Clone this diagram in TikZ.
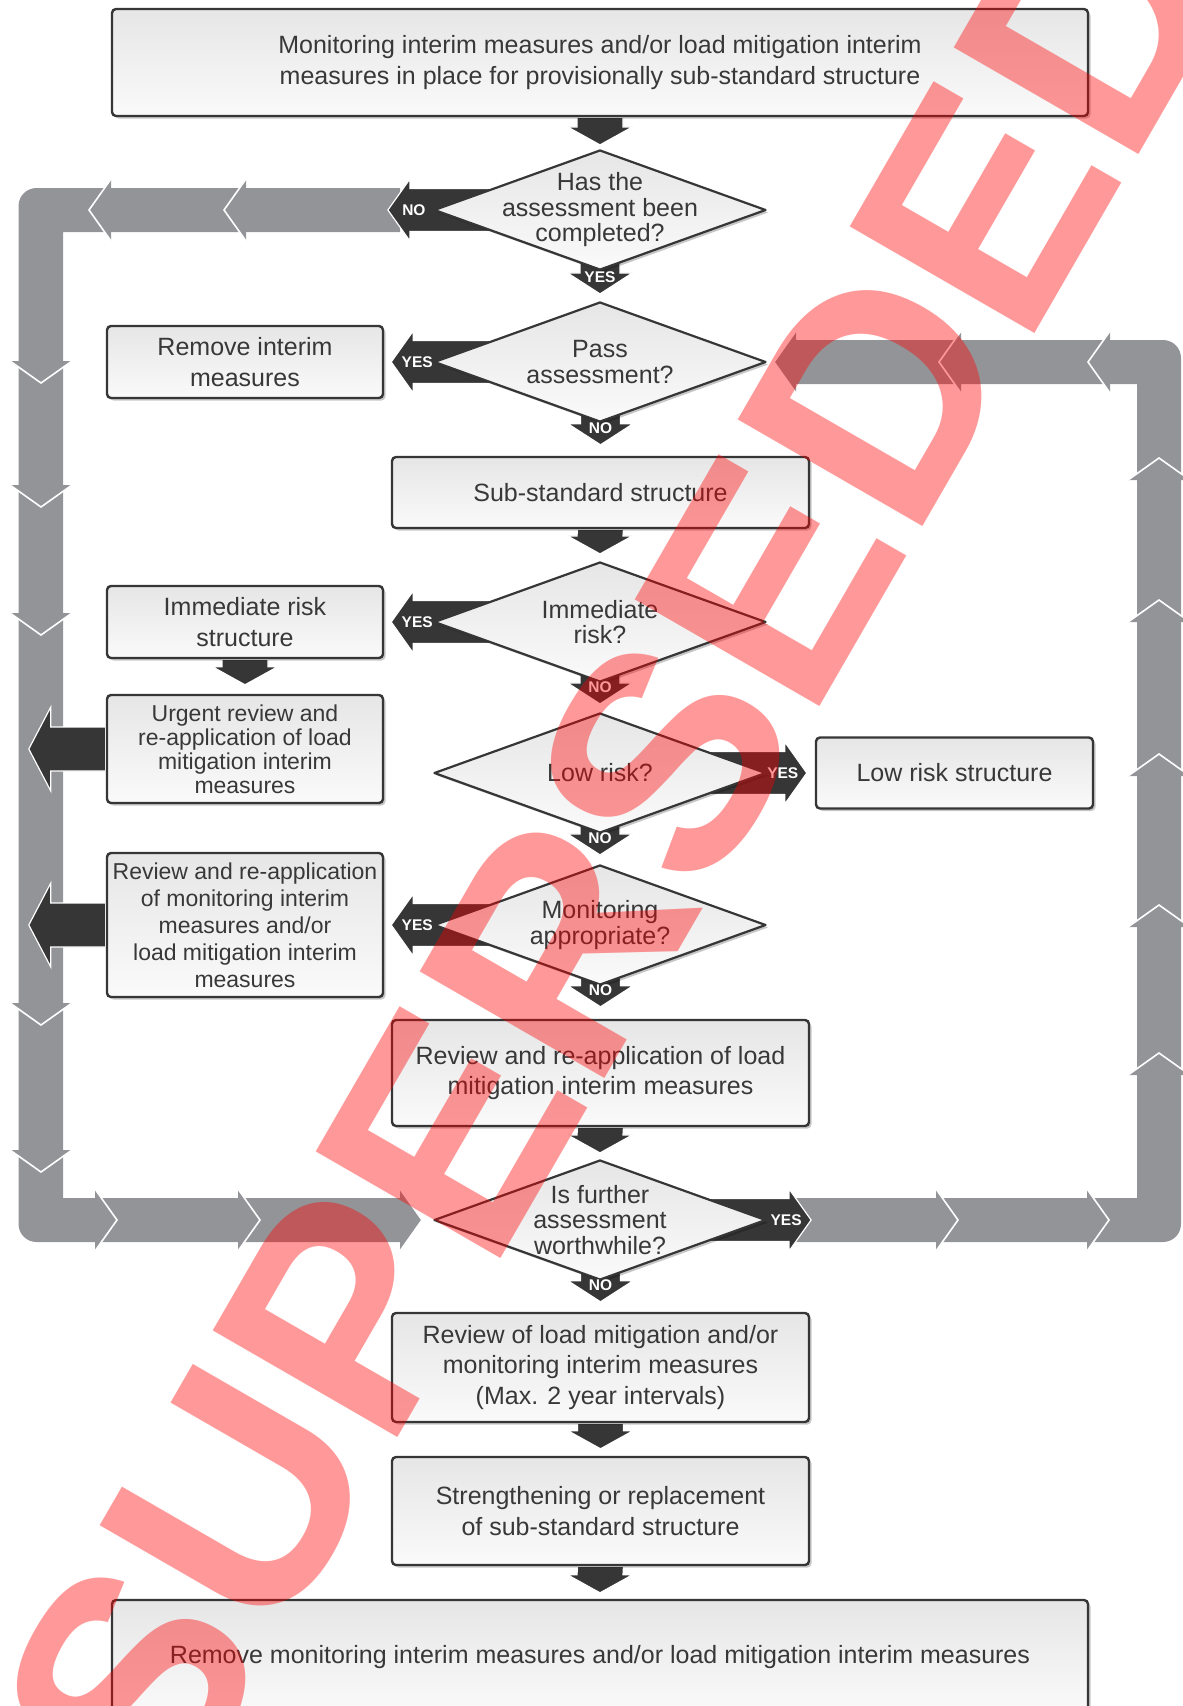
\documentclass[tikz,border=0pt]{standalone}
\usepackage{fontspec}
\setmainfont{Liberation Sans}
\usetikzlibrary{shapes.geometric,calc,shadows}
\pgfdeclarelayer{back}
\pgfsetlayers{back,main}
\definecolor{barg}{HTML}{939498}
\definecolor{darka}{HTML}{363636}
\definecolor{txtc}{HTML}{383838}
\definecolor{boxtop}{HTML}{E6E6E7}
\definecolor{boxbot}{HTML}{FAFAFA}
\newcommand\ArrDn[5]{\filldraw[darkarrow] ($(#1)+(-#3,0)$) -- ($(#2)+(-#3,#5)$) -- ($(#2)+(-#4,#5)$) -- (#2) -- ($(#2)+(#4,#5)$) -- ($(#2)+(#3,#5)$) -- ($(#1)+(#3,0)$) -- cycle;}
\newcommand\ArrLt[5]{\filldraw[darkarrow] ($(#1)+(0,#3)$) -- ($(#2)+(#5,#3)$) -- ($(#2)+(#5,#4)$) -- (#2) -- ($(#2)+(#5,-#4)$) -- ($(#2)+(#5,-#3)$) -- ($(#1)+(0,-#3)$) -- cycle;}
\newcommand\ArrRt[5]{\filldraw[darkarrow] ($(#1)+(0,#3)$) -- ($(#2)+(-#5,#3)$) -- ($(#2)+(-#5,#4)$) -- (#2) -- ($(#2)+(-#5,-#4)$) -- ($(#2)+(-#5,-#3)$) -- ($(#1)+(0,-#3)$) -- cycle;}
\newcommand\ChevL[1]{\fill[barg] (#1) -- ++(22,31) -- ++(0,-62) -- cycle; \draw[chevw] ($(#1)+(22,31)$) -- (#1) -- ($(#1)+(22,-31)$);}
\newcommand\ChevR[1]{\fill[barg] (#1) -- ++(-22,31) -- ++(0,-62) -- cycle; \draw[chevw] ($(#1)+(-22,31)$) -- (#1) -- ($(#1)+(-22,-31)$);}
\newcommand\ChevD[1]{\fill[barg] (#1) -- ++(-31,22) -- ++(62,0) -- cycle; \draw[chevw] ($(#1)+(-31,22)$) -- (#1) -- ($(#1)+(31,22)$);}
\newcommand\ChevU[1]{\fill[barg] (#1) -- ++(-31,-22) -- ++(62,0) -- cycle; \draw[chevw] ($(#1)+(-31,-22)$) -- (#1) -- ($(#1)+(31,-22)$);}
\begin{document}
\begin{tikzpicture}[x=1pt,y=1pt,
  darkarrow/.style={fill=darka, draw=white, line width=1.2pt},
  chevw/.style={draw=white, line width=1.6pt},
  shad/.style={drop shadow={shadow xshift=2.5pt, shadow yshift=-2.5pt, opacity=0.22, fill=black}},
  box/.style={draw=darka, line width=2.4pt, rounded corners=4pt, top color=boxtop, bottom color=boxbot,
    align=center, text=txtc, font=\fontsize{25}{30.5}\selectfont, inner sep=0pt, shad},
  dia/.style={diamond, draw=darka, line width=2.2pt, line join=round, top color=boxtop, bottom color=boxbot,
    minimum width=332pt, minimum height=120pt, inner sep=0pt, shad},
  dtext/.style={align=center, text=txtc, font=\fontsize{25}{25.5}\selectfont, inner sep=0pt},
  yn/.style={text=white, font=\fontsize{15.5}{16}\selectfont\bfseries, inner sep=0pt}
]
\useasboundingbox (0,0) rectangle (1183,-1706);
\clip (0,0) rectangle (1183,-1706);

% ---------- nodes ----------
\node[box, minimum width=976pt, minimum height=107pt] (top) at (600,-62.5)
  {Monitoring interim measures and/or load mitigation interim\\measures in place for provisionally sub-standard structure};
\node[dia] (d1) at (600,-210) {};
\node[dtext] (t1) at (d1.center) {Has the\\assessment been\\completed?};
\node[dia] (d2) at (600,-362) {};
\node[dtext] (t2) at (d2.center) {Pass\\assessment?};
\node[box, minimum width=276pt, minimum height=72pt] (remove) at (245,-362) {Remove interim\\measures};
\node[box, minimum width=417pt, minimum height=71pt] (sub) at (600.5,-492.5) {Sub-standard structure};
\node[dia] (d3) at (600,-622) {};
\node[dtext] (t3) at (d3.center) {Immediate\\risk?};
\node[box, minimum width=276pt, minimum height=72pt] (imm) at (245,-622) {Immediate risk\\structure};
\node[box, minimum width=276pt, minimum height=108pt, font=\fontsize{23}{24}\selectfont] (urgent) at (245,-749)
  {Urgent review and\\re-application of load\\mitigation interim\\measures};
\node[dia] (d4) at (600,-773) {};
\node[dtext] (t4) at (d4.center) {Low risk?};
\node[box, minimum width=277pt, minimum height=71pt] (low) at (954.5,-773) {Low risk structure};
\node[dia] (d5) at (600,-925) {};
\node[dtext] (t5) at (d5.center) {Monitoring\\appropriate?};
\node[box, minimum width=276pt, minimum height=144pt, font=\fontsize{23}{27}\selectfont] (revmon) at (245,-925)
  {Review and re-application\\of monitoring interim\\measures and/or\\load mitigation interim\\measures};
\node[box, minimum width=417pt, minimum height=106pt] (rev) at (600.5,-1073)
  {Review and re-application of load\\mitigation interim measures};
\node[dia] (d6) at (600,-1220) {};
\node[dtext] (t6) at (d6.center) {Is further\\assessment\\worthwhile?};
\node[box, minimum width=417pt, minimum height=109pt] (revload) at (600.5,-1367.5)
  {Review of load mitigation and/or\\monitoring interim measures\\(Max. 2 year intervals)};
\node[box, minimum width=417pt, minimum height=108pt] (streng) at (600.5,-1511)
  {Strengthening or replacement\\of sub-standard structure};
\node[box, minimum width=976pt, minimum height=114pt] (bottom) at (600,-1657)
  {Remove monitoring interim measures and/or load mitigation interim measures};

% ---------- arrow tips ----------
\coordinate (tA) at ($(d1.north)+(0,4)$);
\coordinate (tB) at ($(d2.north)+(0,7)$);
\coordinate (tC) at ($(sub.north)+(0,11)$);
\coordinate (tD) at ($(d3.north)+(0,7)$);
\coordinate (tE) at ($(d4.north)+(0,8)$);
\coordinate (tF) at ($(d5.north)+(0,9)$);
\coordinate (tG) at ($(rev.north)+(0,12)$);
\coordinate (tH) at ($(d6.north)+(0,6)$);
\coordinate (tI) at ($(revload.north)+(0,10)$);
\coordinate (tJ) at ($(streng.north)+(0,7)$);
\coordinate (tK) at ($(bottom.north)+(0,6)$);
\coordinate (tL) at ($(urgent.north)+(0,9)$);
\coordinate (l1) at ($(d1.west)+(-45,0)$);
\coordinate (l2) at ($(remove.east)+(7,0)$);
\coordinate (l3) at ($(imm.east)+(7,0)$);
\coordinate (l5) at ($(revmon.east)+(7,0)$);
\coordinate (r4) at ($(low.west)+(-8,0)$);
\coordinate (r6) at ($(d6.east)+(44,0)$);
\coordinate (u1) at ($(urgent.west)+(-77,0)$);
\coordinate (u2) at ($(revmon.west)+(-77,0)$);

\begin{pgfonlayer}{back}
% ---------- grey loops ----------
\fill[barg] (400,-188) -- (36.5,-188) arc[start angle=90, end angle=180, radius=18]
  -- (18.5,-1224) arc[start angle=180, end angle=270, radius=18]
  -- (400,-1242) -- (400,-1198) -- (63,-1198) -- (63,-232) -- (400,-232) -- cycle;
\fill[barg] (796,-340) -- (1163,-340) arc[start angle=90, end angle=0, radius=18]
  -- (1181,-1224) arc[start angle=0, end angle=-90, radius=18]
  -- (795,-1242) -- (795,-1198) -- (1137,-1198) -- (1137,-384) -- (796,-384) -- cycle;
\ChevL{89,-210} \ChevL{224,-210}
\ChevD{41,-383} \ChevD{41,-507} \ChevD{41,-635} \ChevD{41,-1025} \ChevD{41,-1172}
\ChevR{117,-1220} \ChevR{260,-1220} \ChevR{422,-1220}
\ChevR{958,-1220} \ChevR{1109,-1220}
\ChevU{1159,-1053} \ChevU{1159,-905} \ChevU{1159,-754} \ChevU{1159,-600} \ChevU{1159,-458}
\ChevL{1088,-362} \ChevL{939,-362} \ChevL{774,-362}
% ---------- dark arrows ----------
\ArrDn{top.south}{tA}{23}{32.5}{18}
\ArrDn{d1.center}{tB}{20}{32.5}{21}
\ArrDn{d2.center}{tC}{20}{32.5}{21}
\ArrDn{sub.south}{tD}{23}{32.5}{18}
\ArrDn{d3.center}{tE}{20}{32.5}{21}
\ArrDn{d4.center}{tF}{20}{32.5}{21}
\ArrDn{d5.center}{tG}{20}{32.5}{21}
\ArrDn{rev.south}{tH}{23}{32.5}{18}
\ArrDn{d6.center}{tI}{20}{32.5}{21}
\ArrDn{revload.south}{tJ}{23}{32.5}{18}
\ArrDn{streng.south}{tK}{23}{32.5}{18}
\ArrDn{imm.south}{tL}{23}{32.5}{18}
\ArrLt{d1.center}{l1}{21.5}{31}{22}
\ArrLt{d2.center}{l2}{21.5}{31}{22}
\ArrLt{d3.center}{l3}{21.5}{31}{22}
\ArrLt{d5.center}{l5}{21.5}{31}{22}
\ArrRt{d4.center}{r4}{21.5}{31}{22}
\ArrRt{d6.center}{r6}{21.5}{31}{22}
\ArrLt{urgent.west}{u1}{22}{42}{22}
\ArrLt{revmon.west}{u2}{22}{42}{22}
\end{pgfonlayer}

% ---------- labels ----------
\node[yn] at ($(tB)+(0,17)$) {YES};
\node[yn] at ($(tC)+(0,17)$) {NO};
\node[yn] at ($(tE)+(0,17)$) {NO};
\node[yn] at ($(tF)+(0,17)$) {NO};
\node[yn] at ($(tG)+(0,17)$) {NO};
\node[yn] at ($(tI)+(0,17)$) {NO};
\node[yn] at ($(l1)+(26,0)$) {NO};
\node[yn] at ($(l2)+(26,0)$) {YES};
\node[yn] at ($(l3)+(26,0)$) {YES};
\node[yn] at ($(l5)+(26,0)$) {YES};
\node[yn] at ($(r4)+(-24,0)$) {YES};
\node[yn] at ($(r6)+(-25,0)$) {YES};

% ---------- watermark ----------
\node[rotate=60, anchor=base, text=red, opacity=0.4, inner sep=0pt,
  font=\fontsize{310}{310}\selectfont\bfseries] (wm) at (706,-903) {SUPERSEDED};
\end{tikzpicture}
\end{document}
